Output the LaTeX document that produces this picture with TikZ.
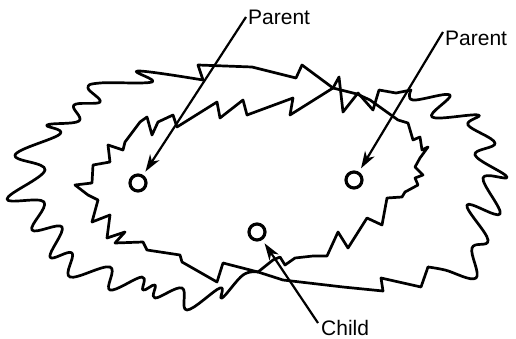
\documentclass[tikz,border=0pt]{standalone}
\usepackage{fontspec}
\setmainfont{Liberation Sans}
\usetikzlibrary{arrows.meta}
\begin{document}
\begin{tikzpicture}[x=1pt,y=-1pt,
  blob/.style={line width=2.7pt,line join=round,line cap=round},
  ptr/.style={line width=2.2pt,-{Stealth[length=17pt,width=11pt,inset=5pt]},shorten >=4pt},
  dot/.style={circle,draw,line width=3.2pt,minimum size=16pt,inner sep=0pt},
  lbl/.style={font=\fontsize{21}{25}\selectfont,inner sep=0pt,anchor=west}]
\useasboundingbox (0,0) rectangle (516,339);
% left blob: top and left outer (wavy)
\draw[blob] (333,88) -- (302,65) -- (296,78) -- (252,67) -- (198,65) -- (203,80);
\draw[blob] plot[smooth,tension=0.65] coordinates {(203,80) (138,71) (152,82) (100,83) (88,88) (100,102) (74,105) (79,121) (47,125) (60,134) (15,155) (45,170) (7,199) (44,202) (32,230) (62,227) (50,257) (72,253) (70,277) (110,267) (110,290) (142,277) (143,290) (155,285) (155,298) (182,288) (187,310) (220,288) (222,298) (243,275) (258,272)};
% left blob: inner right (jagged)
\draw[blob] (258,272) -- (273,260) -- (280,257) -- (285,265) -- (295,258) -- (313,256) -- (327,256) -- (338,232) -- (348,248) -- (367,218) -- (382,225) -- (387,198) -- (402,197) -- (405,192) -- (418,185) -- (415,178) -- (423,175) -- (415,167) -- (420,158) -- (428,147) -- (422,150) -- (420,137) -- (413,140) -- (408,123) -- (398,120) -- (370,100) -- (357,94) -- (333,88);
% right blob: inner left (jagged) and bottom
\draw[blob] (333,88) -- (290,115) -- (293,98) -- (247,115) -- (243,100) -- (220,118) -- (217,102) -- (177,127) -- (173,115) -- (158,122) -- (152,135) -- (147,117) -- (140,122) -- (125,142) -- (123,150) -- (108,145) -- (110,162) -- (93,165) -- (92,183) -- (75,185) -- (88,195) -- (98,200) -- (92,222) -- (110,215) -- (107,238) -- (125,232) -- (115,243) -- (143,242) -- (147,250) -- (180,255) -- (182,262) -- (217,282) -- (223,263) -- (258,272) -- (283,280) -- (343,287) -- (383,291) -- (381,278) -- (421,287) -- (428,267);
% right blob: outer right (wavy)
\draw[blob] plot[smooth,tension=0.65] coordinates {(428,267) (445,270) (476,278) (472,248) (488,240) (467,205) (500,214) (483,178) (507,177) (475,155) (495,143) (468,125) (478,115) (432,117) (450,95) (413,100) (411,90)};
% right blob: top tangle
\draw[blob] (411,90) -- (396,93) -- (379,90) -- (373,110) -- (358,93) -- (343,112) -- (339,77) -- (333,88);
% individuals
\node[dot] (pL) at (138,183) {};
\node[dot] (pR) at (354,180) {};
\node[dot] (ch) at (257,232) {};
\node[lbl] (tL) at (248,17) {Parent};
\node[lbl] (tR) at (445,38) {Parent};
\node[lbl] (tC) at (321,328) {Child};
\draw[ptr] ([xshift=-2pt]tL.west) -- (pL);
\draw[ptr] ([shift={(-2pt,6pt)}]tR.west) -- (pR);
\draw[ptr] ([shift={(-3pt,5pt)}]tC.west) -- (ch);
\end{tikzpicture}
\end{document}
